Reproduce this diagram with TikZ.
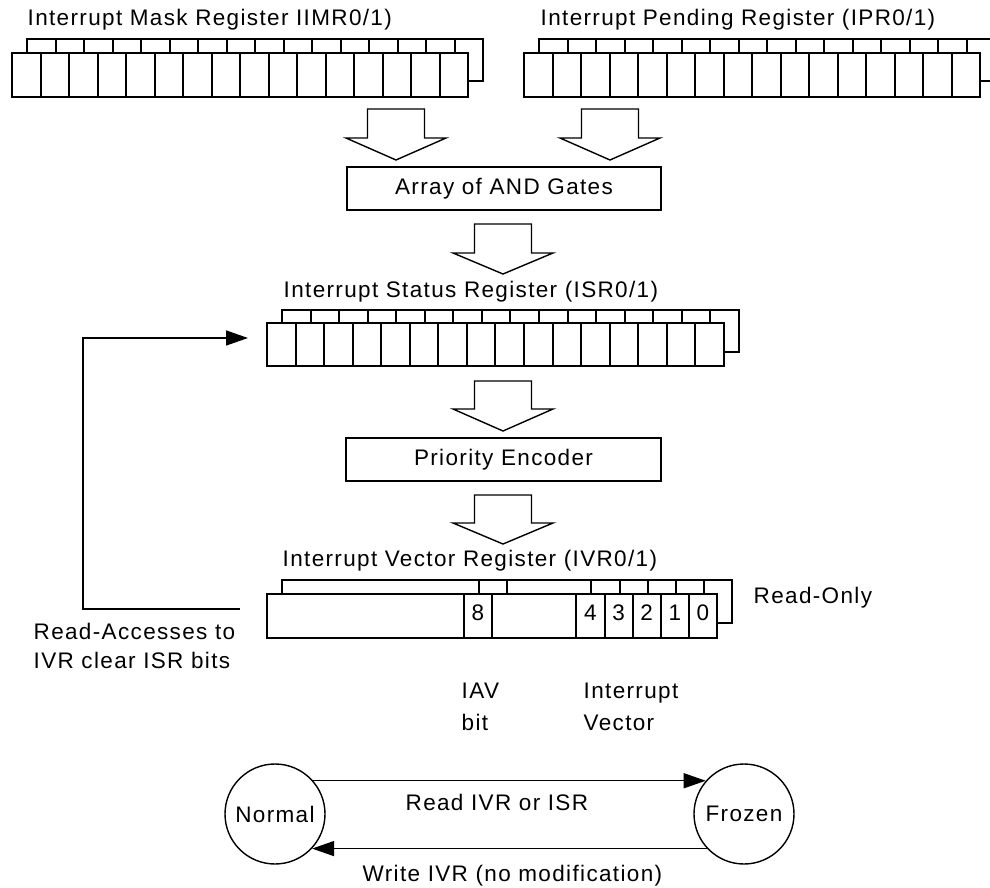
\documentclass[tikz,border=0pt]{standalone}
\usepackage{fontspec}
\setmainfont{Liberation Sans}[LetterSpace=6]
\usetikzlibrary{arrows.meta}

\tikzset{
  lbl/.style={inner sep=0pt, anchor=base west, font=\fontsize{22.5}{26}\selectfont},
  clbl/.style={inner sep=0pt, anchor=base, font=\fontsize{22.5}{26}\selectfont},
  unitbox/.style={draw, fill=white, inner sep=0pt, font=\fontsize{22.5}{26}\selectfont},
  hollow/.style={draw, fill=white, line join=miter},
  state/.style={draw, circle, minimum size=100pt, inner sep=0pt, font=\fontsize{22.5}{26}\selectfont},
  solidtip/.style={-{Triangle[length=22pt,width=15pt]}},
}

% register with a second copy behind it
% #1 front left x, #2 back top y, #3 front top y, #4 bottom y,
% #5 cell width, #6 y of back bottom edge, #7 divider indices
\newcommand\drawreg[7]{%
  \pgfmathsetmacro\regright{round(#1+16*#5)}%
  \draw[fill=white] (#1+15,#2) rectangle (\regright+15,#6);
  \foreach \k in {#7} {%
    \pgfmathsetmacro\divx{round(#1+\k*#5)}%
    \draw (\divx+15,#2) -- (\divx+15,#3);}
  \draw[fill=white] (#1,#3) rectangle (\regright,#4);
  \foreach \k in {#7} {%
    \pgfmathsetmacro\divx{round(#1+\k*#5)}%
    \draw (\divx,#3) -- (\divx,#4);}
}

% hollow down arrow: #1 centre x, #2 top y, #3 shoulder y, #4 tip y
\newcommand\hollowarrow[4]{%
  \draw[hollow] (#1-28.5,#2) -- (#1+28.5,#2) -- (#1+28.5,#3) -- (#1+50,#3)
    -- (#1,#4) -- (#1-50,#3) -- (#1-28.5,#3) -- cycle;
}

\begin{document}
\begin{tikzpicture}[x=1pt, y=-1pt, line width=1.4pt]
\clip (0,0) rectangle (990,888);

% mask and pending registers
\node[lbl] (imrtitle) at (27,26) {Interrupt Mask Register IIMR0/1)};
\drawreg{12}{39}{53}{97}{28.5}{81}{1,...,15}
\node[lbl] (iprtitle) at (540,26) {Interrupt Pending Register (IPR0/1)};
\drawreg{524}{39}{53}{97}{28.5}{81}{1,...,15}

\hollowarrow{396}{109}{138}{160}
\hollowarrow{610}{109}{138}{160}

\node[unitbox, minimum width=314pt, minimum height=43pt] (andg) at (504,188.5) {Array of AND Gates};

\hollowarrow{503}{224}{253}{274}

% status register
\node[lbl] (isrtitle) at (283,297) {Interrupt Status Register (ISR0/1)};
\drawreg{267}{310}{323}{366}{28.56}{352}{1,...,15}

\hollowarrow{503}{381}{409}{431}

\node[unitbox, minimum width=315pt, minimum height=43pt] (prio) at (503.5,459.5) {Priority Encoder};

\hollowarrow{503}{495}{523}{544}

% vector register
\node[lbl] (ivrtitle) at (282,566) {Interrupt Vector Register (IVR0/1)};
\drawreg{267}{580}{594}{638}{28.125}{623}{7,8,11,12,13,14,15}
\foreach \d/\c in {8/8, 4/12, 3/13, 2/14, 1/15, 0/16}
  \node[clbl] (bit\d) at (267+\c*28.125-14.06,620) {\d};
\node[lbl] (ro) at (753,603) {Read-Only};

\node[lbl] (iav1) at (461,698) {IAV};
\node[lbl] (iav2) at (461,730) {bit};
\node[lbl] (iv1) at (583,698) {Interrupt};
\node[lbl] (iv2) at (583,730) {Vector};

% read access feedback to the status register
\coordinate (fbend) at (240,609);
\coordinate (fbtip) at (248,338);
\draw[solidtip] (fbend) -- (83,609) |- (fbtip);
\node[lbl] (rac1) at (33,639) {Read-Accesses to};
\node[lbl] (rac2) at (33,668) {IVR clear ISR bits};

% freeze state machine
\node[state] (normal) at (275,814) {Normal};
\node[state] (frozen) at (744,814) {Frozen};
\draw[solidtip] (normal.41) -- (frozen.139);
\draw[solidtip] (frozen.223) -- (normal.-43);
\node[lbl] (rdlbl) at (405,810) {Read IVR or ISR};
\node[lbl] (wrlbl) at (362,881) {Write IVR (no modification)};
\end{tikzpicture}
\end{document}
